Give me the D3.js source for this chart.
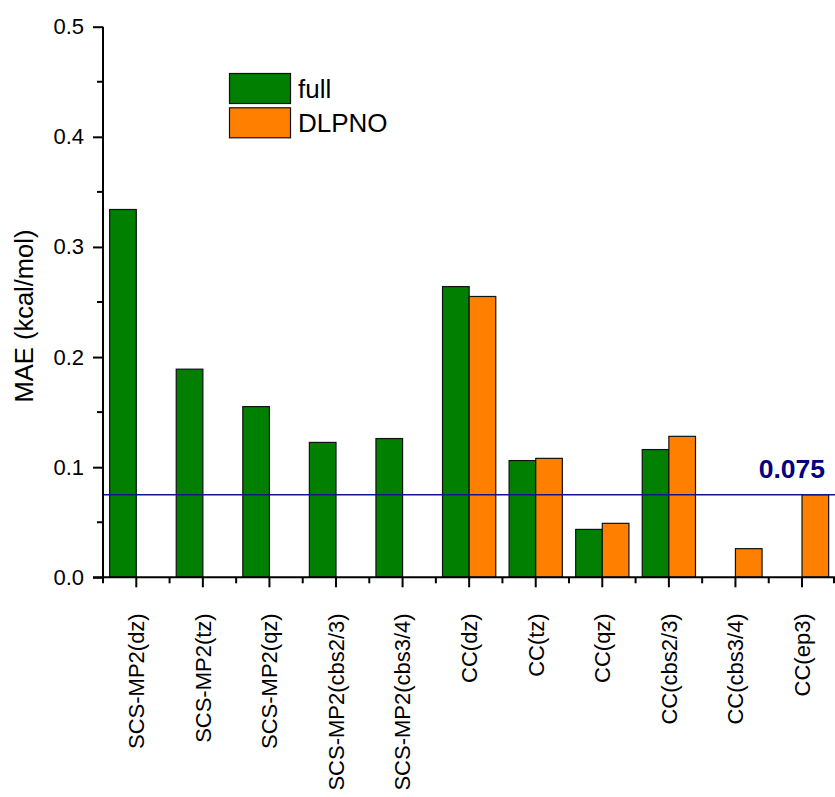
<!DOCTYPE html>
<html>
<head>
<meta charset="utf-8">
<script src="https://cdn.jsdelivr.net/npm/d3@7"></script>
<style>
  html, body { margin: 0; padding: 0; background: #fff; }
  svg { display: block; font-family: "Liberation Sans", Arial, Helvetica, sans-serif; }
</style>
</head>
<body>
<svg id="chart" width="835" height="797"></svg>
<script>
const categories = ["SCS-MP2(dz)", "SCS-MP2(tz)", "SCS-MP2(qz)", "SCS-MP2(cbs2/3)", "SCS-MP2(cbs3/4)",
                    "CC(dz)", "CC(tz)", "CC(qz)", "CC(cbs2/3)", "CC(cbs3/4)", "CC(ep3)"];
const seriesNames = ["full", "DLPNO"];
const fullValues  = [0.334, 0.189, 0.155, 0.1225, 0.126, 0.264, 0.106, 0.0435, 0.116, null, null];
const dlpnoValues = [null, null, null, null, null, 0.255, 0.108, 0.049, 0.128, 0.026, 0.075];
const yTicks = [0.0, 0.1, 0.2, 0.3, 0.4, 0.5];
const yMinorTicks = [0.05, 0.15, 0.25, 0.35, 0.45];
const refValue = 0.075;
const refLabel = "0.075";
const yTitle = "MAE (kcal/mol)";
const colors = { full: "#007f00", DLPNO: "#ff8000" };

const svg = d3.select("#chart");
const mLeft = 103, mRight = 835.3, mTop = 26.7, mBottom = 577.3;

const x = d3.scaleBand().domain(categories).range([mLeft, mRight]).padding(0);
const x1 = d3.scaleBand().domain(seriesNames).range([0, x.bandwidth()]).paddingInner(0).paddingOuter(0.25);
const y = d3.scaleLinear().domain([0, 0.5]).range([mBottom, mTop]);

const data = categories.map((c, i) => ({ cat: c, full: fullValues[i], DLPNO: dlpnoValues[i] }));

// bars
const g = svg.append("g");
data.forEach(d => {
  seriesNames.forEach(s => {
    if (d[s] == null) return;
    g.append("rect")
      .attr("x", x(d.cat) + x1(s))
      .attr("y", y(d[s]))
      .attr("width", x1.bandwidth())
      .attr("height", y(0) - y(d[s]))
      .attr("fill", colors[s])
      .attr("stroke", "#111")
      .attr("stroke-width", 1.2);
  });
});

// reference line
svg.append("line")
  .attr("x1", mLeft).attr("x2", mRight)
  .attr("y1", y(refValue)).attr("y2", y(refValue))
  .attr("stroke", "#14148c").attr("stroke-width", 1.6);
svg.append("text")
  .attr("x", 825).attr("y", y(refValue) - 17)
  .attr("text-anchor", "end")
  .attr("font-size", 26.5).attr("font-weight", "bold")
  .attr("fill", "#000080")
  .text(refLabel);

// y axis
const yAxis = svg.append("g").attr("transform", `translate(${mLeft},0)`)
  .call(d3.axisLeft(y).tickValues(yTicks).tickFormat(d3.format(".1f")).tickSize(10).tickPadding(9));
yAxis.select(".domain").attr("stroke", "#000").attr("stroke-width", 2).attr("d", `M0,${mTop}V${mBottom}`);
yAxis.selectAll(".tick line").attr("stroke", "#000").attr("stroke-width", 2);
yAxis.selectAll(".tick text").attr("font-size", 22).attr("fill", "#000")
  .attr("font-family", "Liberation Sans, Arial, sans-serif");
svg.append("g").attr("transform", `translate(${mLeft},0)`)
  .selectAll("line").data(yMinorTicks).join("line")
  .attr("x1", -6).attr("x2", 0)
  .attr("y1", d => y(d)).attr("y2", d => y(d))
  .attr("stroke", "#000").attr("stroke-width", 2);

// x axis
const xAxis = svg.append("g").attr("transform", `translate(0,${mBottom})`)
  .call(d3.axisBottom(x).tickSize(10).tickSizeOuter(0).tickPadding(36));
xAxis.select(".domain").attr("stroke", "#000").attr("stroke-width", 2).attr("d", `M${mLeft - 10},0H${mRight}`);
xAxis.selectAll(".tick line").attr("stroke", "#000").attr("stroke-width", 2);
xAxis.selectAll(".tick text")
  .attr("font-size", 22).attr("fill", "#000")
  .attr("font-family", "Liberation Sans, Arial, sans-serif")
  .attr("text-anchor", "end")
  .attr("transform", "rotate(-90)")
  .attr("x", -36).attr("y", 0).attr("dy", "0.36em");
// minor x ticks at band boundaries
const boundaries = categories.map(c => x(c)).concat([x(categories[categories.length - 1]) + x.step()]);
svg.append("g").attr("transform", `translate(0,${mBottom})`)
  .selectAll("line").data(boundaries).join("line")
  .attr("x1", d => Math.min(d, 834)).attr("x2", d => Math.min(d, 834))
  .attr("y1", 0).attr("y2", 6)
  .attr("stroke", "#000").attr("stroke-width", 2);

// y title
svg.append("text")
  .attr("transform", `translate(33,${316}) rotate(-90)`)
  .attr("text-anchor", "middle")
  .attr("font-size", 25.5).attr("fill", "#000")
  .text(yTitle);

// legend
const legend = svg.append("g");
seriesNames.forEach((s, i) => {
  legend.append("rect")
    .attr("x", 229.5).attr("y", 73.5 + i * 34.3)
    .attr("width", 61).attr("height", 30)
    .attr("fill", colors[s]).attr("stroke", "#111").attr("stroke-width", 1.2);
  legend.append("text")
    .attr("x", 298).attr("y", 88.5 + i * 34.3).attr("dy", "0.36em")
    .attr("font-size", 26).attr("fill", "#000")
    .text(s);
});
</script>
</body>
</html>
